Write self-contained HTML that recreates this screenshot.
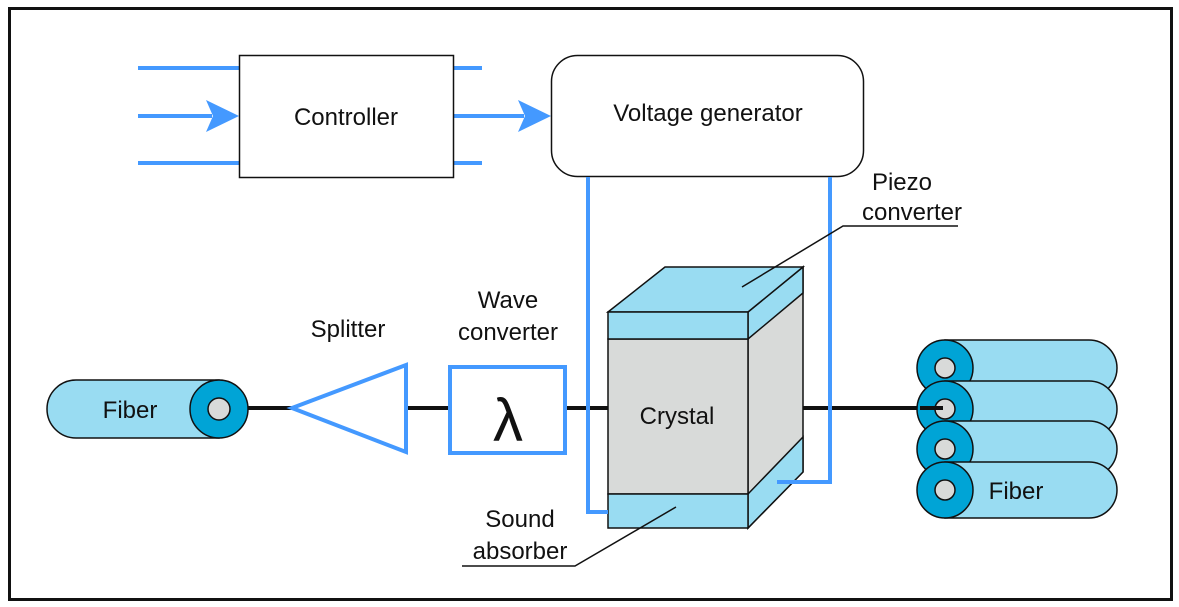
<!DOCTYPE html>
<html><head><meta charset="utf-8"><style>
html,body{margin:0;padding:0;background:#fff}
svg{display:block}
text{font-family:"Liberation Sans",sans-serif;fill:#111}
</style></head><body>
<svg width="1179" height="607" viewBox="0 0 1179 607" xmlns="http://www.w3.org/2000/svg">
<rect x="9.5" y="8.5" width="1162" height="591" fill="#fff" stroke="#111" stroke-width="3"/>
<g stroke="#4499ff" stroke-width="4" fill="none">
<line x1="138" y1="68" x2="239" y2="68"/>
<line x1="138" y1="116" x2="212" y2="116"/>
<line x1="138" y1="163" x2="239" y2="163"/>
<line x1="454" y1="68" x2="482" y2="68"/>
<line x1="454" y1="163" x2="482" y2="163"/>
<line x1="454" y1="116" x2="524" y2="116"/>
</g>
<polygon points="239,116 206,100 213,116 206,132" fill="#4499ff"/>
<polygon points="551,116 518,100 525,116 518,132" fill="#4499ff"/>
<rect x="239.5" y="55.5" width="214" height="122" fill="#fff" stroke="#111" stroke-width="1.5"/>
<text x="346" y="125" font-size="24" text-anchor="middle">Controller</text>
<rect x="551.5" y="55.5" width="312" height="121" rx="26" fill="#fff" stroke="#111" stroke-width="1.5"/>
<text x="708" y="121" font-size="24" text-anchor="middle">Voltage generator</text>
<g stroke="#111" stroke-width="4">
<line x1="245" y1="408" x2="292" y2="408"/>
<line x1="406" y1="408" x2="449" y2="408"/>
<line x1="566" y1="408" x2="608" y2="408"/>
<line x1="803" y1="408" x2="940" y2="408"/>
</g>
<path d="M76,380 H219 V438 H76 A29,29 0 0 1 76,380 Z" fill="#99dcf2" stroke="#111" stroke-width="1.5"/>
<circle cx="219" cy="409" r="29" fill="#00a4d6" stroke="#111" stroke-width="1.5"/>
<circle cx="219" cy="409" r="11" fill="#d8dad9" stroke="#111" stroke-width="1.5"/>
<text x="130" y="418" font-size="24" text-anchor="middle">Fiber</text>
<polygon points="292,408 406,365 406,452" fill="#fff" stroke="#4499ff" stroke-width="4"/>
<text x="348" y="337" font-size="24" text-anchor="middle">Splitter</text>
<rect x="450" y="367" width="115" height="86" fill="#fff" stroke="#4499ff" stroke-width="4"/>
<text x="508" y="441" font-size="60" text-anchor="middle">λ</text>
<text x="508" y="308" font-size="24" text-anchor="middle">Wave</text>
<text x="508" y="340" font-size="24" text-anchor="middle">converter</text>
<g stroke="#111" stroke-width="1.5">
<polygon points="748,312 803,267 803,472 748,528" fill="#d8dad9"/>
<polygon points="748,312 803,267 803,293 748,339" fill="#99dcf2"/>
<polygon points="748,494 803,437 803,472 748,528" fill="#99dcf2"/>
<polygon points="608,312 665,267 803,267 748,312" fill="#99dcf2"/>
<rect x="608" y="339" width="140" height="155" fill="#d8dad9"/>
<rect x="608" y="312" width="140" height="27" fill="#99dcf2"/>
<rect x="608" y="494" width="140" height="34" fill="#99dcf2"/>
</g>
<text x="677" y="424" font-size="24" text-anchor="middle">Crystal</text>
<polyline points="588,177 588,512 608,512" fill="none" stroke="#4499ff" stroke-width="4"/>
<polyline points="830,177 830,482 777,482" fill="none" stroke="#4499ff" stroke-width="4"/>
<polyline points="742,287 843,226 958,226" fill="none" stroke="#111" stroke-width="1.5"/>
<text x="902" y="190" font-size="24" text-anchor="middle">Piezo</text>
<text x="912" y="220" font-size="24" text-anchor="middle">converter</text>
<polyline points="676,507 575,566 462,566" fill="none" stroke="#111" stroke-width="1.5"/>
<text x="520" y="527" font-size="24" text-anchor="middle">Sound</text>
<text x="520" y="559" font-size="24" text-anchor="middle">absorber</text>
<g stroke="#111" stroke-width="1.5">
<path d="M945,340 H1089 A28,28 0 0 1 1089,396 H945 Z" fill="#99dcf2"/>
<circle cx="945" cy="368" r="28" fill="#00a4d6"/>
<circle cx="945" cy="368" r="10" fill="#d8dad9"/>
<path d="M945,381 H1089 A28,28 0 0 1 1089,437 H945 Z" fill="#99dcf2"/>
<circle cx="945" cy="409" r="28" fill="#00a4d6"/>
<circle cx="945" cy="409" r="10" fill="#d8dad9"/>
<path d="M945,421 H1089 A28,28 0 0 1 1089,477 H945 Z" fill="#99dcf2"/>
<circle cx="945" cy="449" r="28" fill="#00a4d6"/>
<circle cx="945" cy="449" r="10" fill="#d8dad9"/>
<path d="M945,462 H1089 A28,28 0 0 1 1089,518 H945 Z" fill="#99dcf2"/>
<circle cx="945" cy="490" r="28" fill="#00a4d6"/>
<circle cx="945" cy="490" r="10" fill="#d8dad9"/>
</g>
<line x1="920" y1="408" x2="943" y2="408" stroke="#111" stroke-width="4"/>
<text x="1016" y="499" font-size="24" text-anchor="middle">Fiber</text>
</svg>
</body></html>
